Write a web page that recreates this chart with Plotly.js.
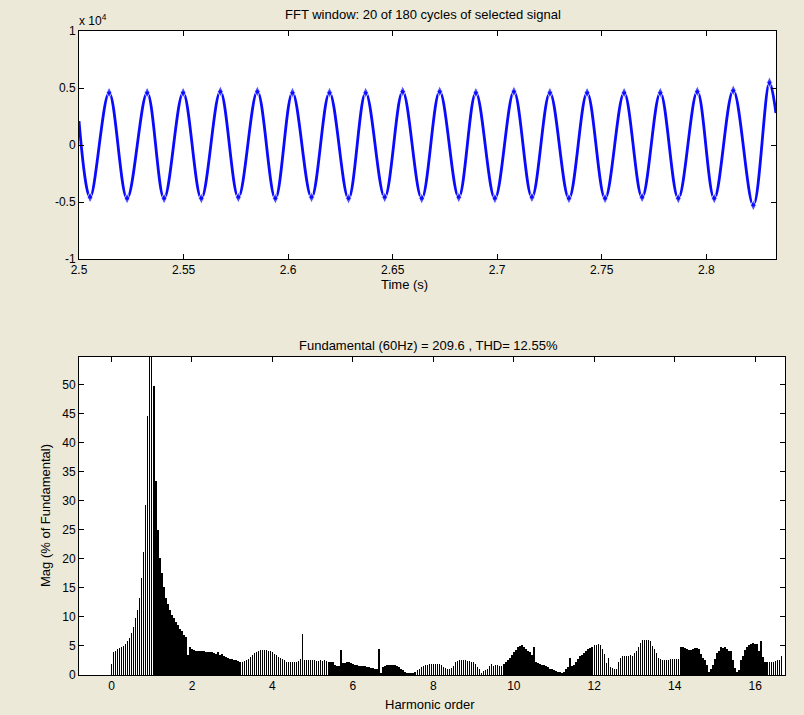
<!DOCTYPE html>
<html>
<head>
<meta charset="utf-8">
<script src="https://cdn.plot.ly/plotly-3.0.1.min.js"></script>
<style>
  html, body { margin: 0; padding: 0; background: #ECE9D8; }
  #chart { width: 804px; height: 715px; }
  .barlayer .point path { shape-rendering: crispEdges; }
</style>
</head>
<body>
<div id="chart"></div>
<script>
// ---------- Top plot: selected signal (values in units of 1e4) ----------
// Start point, alternating trough/peak extremes, end point
const waveT = [2.5000, 2.5053, 2.5144, 2.5230, 2.5326, 2.5407, 2.5498, 2.5585, 2.5676, 2.5762,
               2.5853, 2.5939, 2.6021, 2.6112, 2.6198, 2.6289, 2.6371, 2.6462, 2.6548, 2.6639,
               2.6725, 2.6816, 2.6898, 2.6989, 2.7080, 2.7166, 2.7252, 2.7343, 2.7430, 2.7516,
               2.7607, 2.7693, 2.7780, 2.7866, 2.7957, 2.8038, 2.8129, 2.8225, 2.8302, 2.8333];
const waveV = [0.21, -0.46, 0.46, -0.47, 0.46, -0.47, 0.46, -0.47, 0.47, -0.46,
               0.47, -0.47, 0.46, -0.46, 0.46, -0.47, 0.46, -0.46, 0.47, -0.47,
               0.47, -0.46, 0.46, -0.47, 0.47, -0.46, 0.46, -0.47, 0.46, -0.47,
               0.46, -0.46, 0.46, -0.47, 0.47, -0.47, 0.48, -0.53, 0.55, 0.28];
const topXTicks = [2.5, 2.55, 2.6, 2.65, 2.7, 2.75, 2.8];
const topYTicks = [-1, -0.5, 0, 0.5, 1];
const topYText  = ['-1', '-0.5', '0', '0.5', '1'];

// ---------- Bottom plot: harmonic spectrum (% of fundamental), bins of 0.05 ----------
const mag_h0  = [1.9, 3.9, 4.2, 4.4, 4.6, 4.8, 5.0, 5.3, 5.8, 6.4, 7.2, 8.3, 9.8, 11.2, 13.3, 16.7, 21.2, 29.3, 44.5, 100];
const mag_h1  = [100, 49.7, 33.3, 25.0, 20.2, 17.6, 15.2, 13.3, 12.2, 11.2, 10.4, 9.8, 9.2, 8.6, 7.9, 7.5, 6.9, 6.6, 3.4, 4.8];
const mag_h2  = [4.4, 4.3, 4.2, 4.2, 4.1, 4.1, 4.1, 4.0, 4.0, 4.0, 3.9, 3.8, 3.6, 3.9, 3.5, 3.6, 3.3, 3.1, 2.9, 2.8];
const mag_h3  = [2.7, 2.6, 2.5, 2.4, 2.3, 2.3, 2.4, 2.6, 2.8, 3.1, 3.4, 3.7, 4.0, 4.2, 4.3, 4.3, 4.3, 4.3, 4.2, 4.1];
const mag_h4  = [3.9, 3.6, 3.4, 3.1, 2.9, 2.7, 2.5, 2.3, 2.3, 2.2, 2.2, 2.3, 2.3, 2.4, 2.8, 7.0, 2.6, 2.5, 2.5, 2.5];
const mag_h5  = [2.5, 2.5, 2.4, 2.4, 2.5, 2.4, 2.5, 2.4, 2.3, 2.2, 2.2, 1.8, 1.6, 1.5, 4.3, 2.0, 2.1, 2.3, 2.2, 2.1];
const mag_h6  = [1.9, 1.8, 1.7, 1.6, 1.6, 1.5, 1.5, 1.4, 1.3, 1.2, 1.2, 1.1, 1.0, 4.4, 0.4, 1.3, 1.5, 1.7, 1.8, 1.8];
const mag_h7  = [1.8, 1.7, 1.6, 1.4, 1.1, 0.8, 0.5, 0.4, 0.3, 0.3, 0.4, 0.6, 0.8, 1.0, 1.3, 1.5, 1.7, 1.8, 1.9, 1.9];
const mag_h8  = [1.9, 1.9, 1.9, 1.9, 1.8, 1.3, 1.2, 1.0, 1.0, 1.2, 1.6, 2.3, 2.4, 2.5, 2.5, 2.5, 2.5, 2.4, 2.4, 2.3];
const mag_h9  = [2.2, 1.9, 1.4, 1.0, 0.4, 0.7, 0.8, 1.1, 1.6, 1.9, 1.6, 1.7, 1.7, 1.6, 1.6, 1.9, 2.2, 2.5, 2.9, 3.4];
const mag_h10 = [3.9, 4.3, 4.8, 5.0, 5.1, 4.9, 4.5, 4.2, 3.9, 3.5, 4.9, 2.2, 2.0, 1.9, 1.8, 1.7, 1.5, 1.3, 1.1, 1.0];
const mag_h11 = [0.8, 0.7, 0.6, 0.5, 0.4, 0.5, 1.0, 1.4, 2.9, 1.6, 1.7, 2.3, 2.8, 3.2, 3.5, 3.8, 4.1, 4.4, 4.7, 4.9];
const mag_h12 = [5.1, 5.2, 5.3, 5.2, 4.5, 3.6, 2.0, 2.9, 1.4, 1.2, 1.0, 1.1, 2.2, 2.9, 3.2, 3.3, 3.3, 3.3, 3.4, 3.3];
const mag_h13 = [3.7, 4.2, 4.8, 5.5, 6.0, 6.0, 6.0, 6.0, 5.8, 5.0, 4.4, 3.7, 3.0, 2.7, 2.6, 2.5, 2.5, 2.6, 2.7, 2.7];
const mag_h14 = [2.7, 2.8, 2.8, 4.8, 4.9, 4.6, 4.4, 4.3, 4.3, 4.4, 4.7, 4.7, 4.4, 3.6, 3.0, 2.5, 1.7, 0.6, 1.0, 1.7];
const mag_h15 = [2.8, 3.8, 4.2, 4.8, 4.6, 4.8, 4.4, 4.2, 4.1, 2.6, 1.2, 0.6, 0.8, 2.6, 3.3, 4.3, 4.8, 5.2, 5.4, 5.5];
const mag_h16 = [5.4, 5.3, 4.1, 5.8, 3.1, 2.3, 2.2, 2.2, 2.2, 2.3, 2.4, 2.5, 2.6, 3.2];
const binStart = 0;      // first bin (harmonic order)
const binStep = 0.05;    // bin width (harmonic order)
const botXTicks = [0, 2, 4, 6, 8, 10, 12, 14, 16];
const botYTicks = [0, 5, 10, 15, 20, 25, 30, 35, 40, 45, 50];

const magAll = [].concat(mag_h0, mag_h1, mag_h2, mag_h3, mag_h4, mag_h5, mag_h6, mag_h7, mag_h8,
                         mag_h9, mag_h10, mag_h11, mag_h12, mag_h13, mag_h14, mag_h15, mag_h16);

const W = 804, H = 715;
const px = v => v / W;
const py = v => 1 - v / H;

const FONT = 'Liberation Sans, Arial, Helvetica, sans-serif';
const markerSizes = waveV.map((v, i) => (i === 0 || i === waveV.length - 1) ? 0 : 8);

const traces = [
  {
    type: 'scatter', mode: 'lines+markers',
    x: waveT, y: waveV, xaxis: 'x', yaxis: 'y',
    line: { color: '#0a0aff', width: 2.8, shape: 'spline', smoothing: 1 },
    marker: { color: '#0a0aff', symbol: 'diamond-tall', size: markerSizes },
    hoverinfo: 'skip', cliponaxis: true
  },
  {
    type: 'bar',
    x0: binStart, dx: binStep, y: magAll, xaxis: 'x2', yaxis: 'y2',
    marker: { color: 'rgba(0,0,0,0.999)', line: { width: 0 } },
    hoverinfo: 'skip'
  }
];

const axisCommon = {
  showline: true, linecolor: '#000', linewidth: 1, mirror: 'ticks',
  ticks: 'inside', ticklen: 5, tickcolor: '#000', tickwidth: 1,
  showgrid: false, zeroline: false, fixedrange: true,
  tickfont: { family: FONT, size: 12, color: '#000' }
};

const layout = {
  width: W, height: H,
  paper_bgcolor: '#ECE9D8', plot_bgcolor: '#ffffff',
  margin: { l: 0, r: 0, t: 0, b: 0, pad: 0 },
  showlegend: false,
  bargap: 0.25, bargroupgap: 0,
  xaxis: Object.assign({}, axisCommon, {
    domain: [px(79), px(776)], anchor: 'y',
    range: [2.5, 2.83333], tickmode: 'array', tickvals: topXTicks
  }),
  yaxis: Object.assign({}, axisCommon, {
    domain: [py(259), py(31)], anchor: 'x',
    range: [-1, 1], tickmode: 'array', tickvals: topYTicks, ticktext: topYText
  }),
  xaxis2: Object.assign({}, axisCommon, {
    domain: [px(79), px(785)], anchor: 'y2',
    range: [-0.80816, 16.7415], tickmode: 'array', tickvals: botXTicks
  }),
  yaxis2: Object.assign({}, axisCommon, {
    domain: [py(675), py(357)], anchor: 'x2',
    range: [0, 54.7], tickmode: 'array', tickvals: botYTicks
  }),
  annotations: [
    { text: 'FFT window: 20 of 180 cycles of selected signal', xref: 'paper', yref: 'paper',
      x: px(423), y: py(15), xanchor: 'center', yanchor: 'middle', showarrow: false,
      font: { family: FONT, size: 13, color: '#000' } },
    { text: 'x 10<sup>4</sup>', xref: 'paper', yref: 'paper',
      x: px(77), y: py(20), xanchor: 'left', yanchor: 'middle', showarrow: false,
      font: { family: FONT, size: 12, color: '#000' } },
    { text: 'Time (s)', xref: 'paper', yref: 'paper',
      x: px(404), y: py(284), xanchor: 'center', yanchor: 'middle', showarrow: false,
      font: { family: FONT, size: 13, color: '#000' } },
    { text: 'Fundamental (60Hz) = 209.6 , THD= 12.55%', xref: 'paper', yref: 'paper',
      x: px(428), y: py(346), xanchor: 'center', yanchor: 'middle', showarrow: false,
      font: { family: FONT, size: 13, color: '#000' } },
    { text: 'Harmonic order', xref: 'paper', yref: 'paper',
      x: px(430), y: py(704), xanchor: 'center', yanchor: 'middle', showarrow: false,
      font: { family: FONT, size: 13, color: '#000' } },
    { text: 'Mag (% of Fundamental)', xref: 'paper', yref: 'paper',
      x: px(45), y: py(516), xanchor: 'center', yanchor: 'middle', showarrow: false,
      textangle: -90,
      font: { family: FONT, size: 13, color: '#000' } }
  ]
};

Plotly.newPlot('chart', traces, layout, { staticPlot: true, displayModeBar: false });
</script>
</body>
</html>
